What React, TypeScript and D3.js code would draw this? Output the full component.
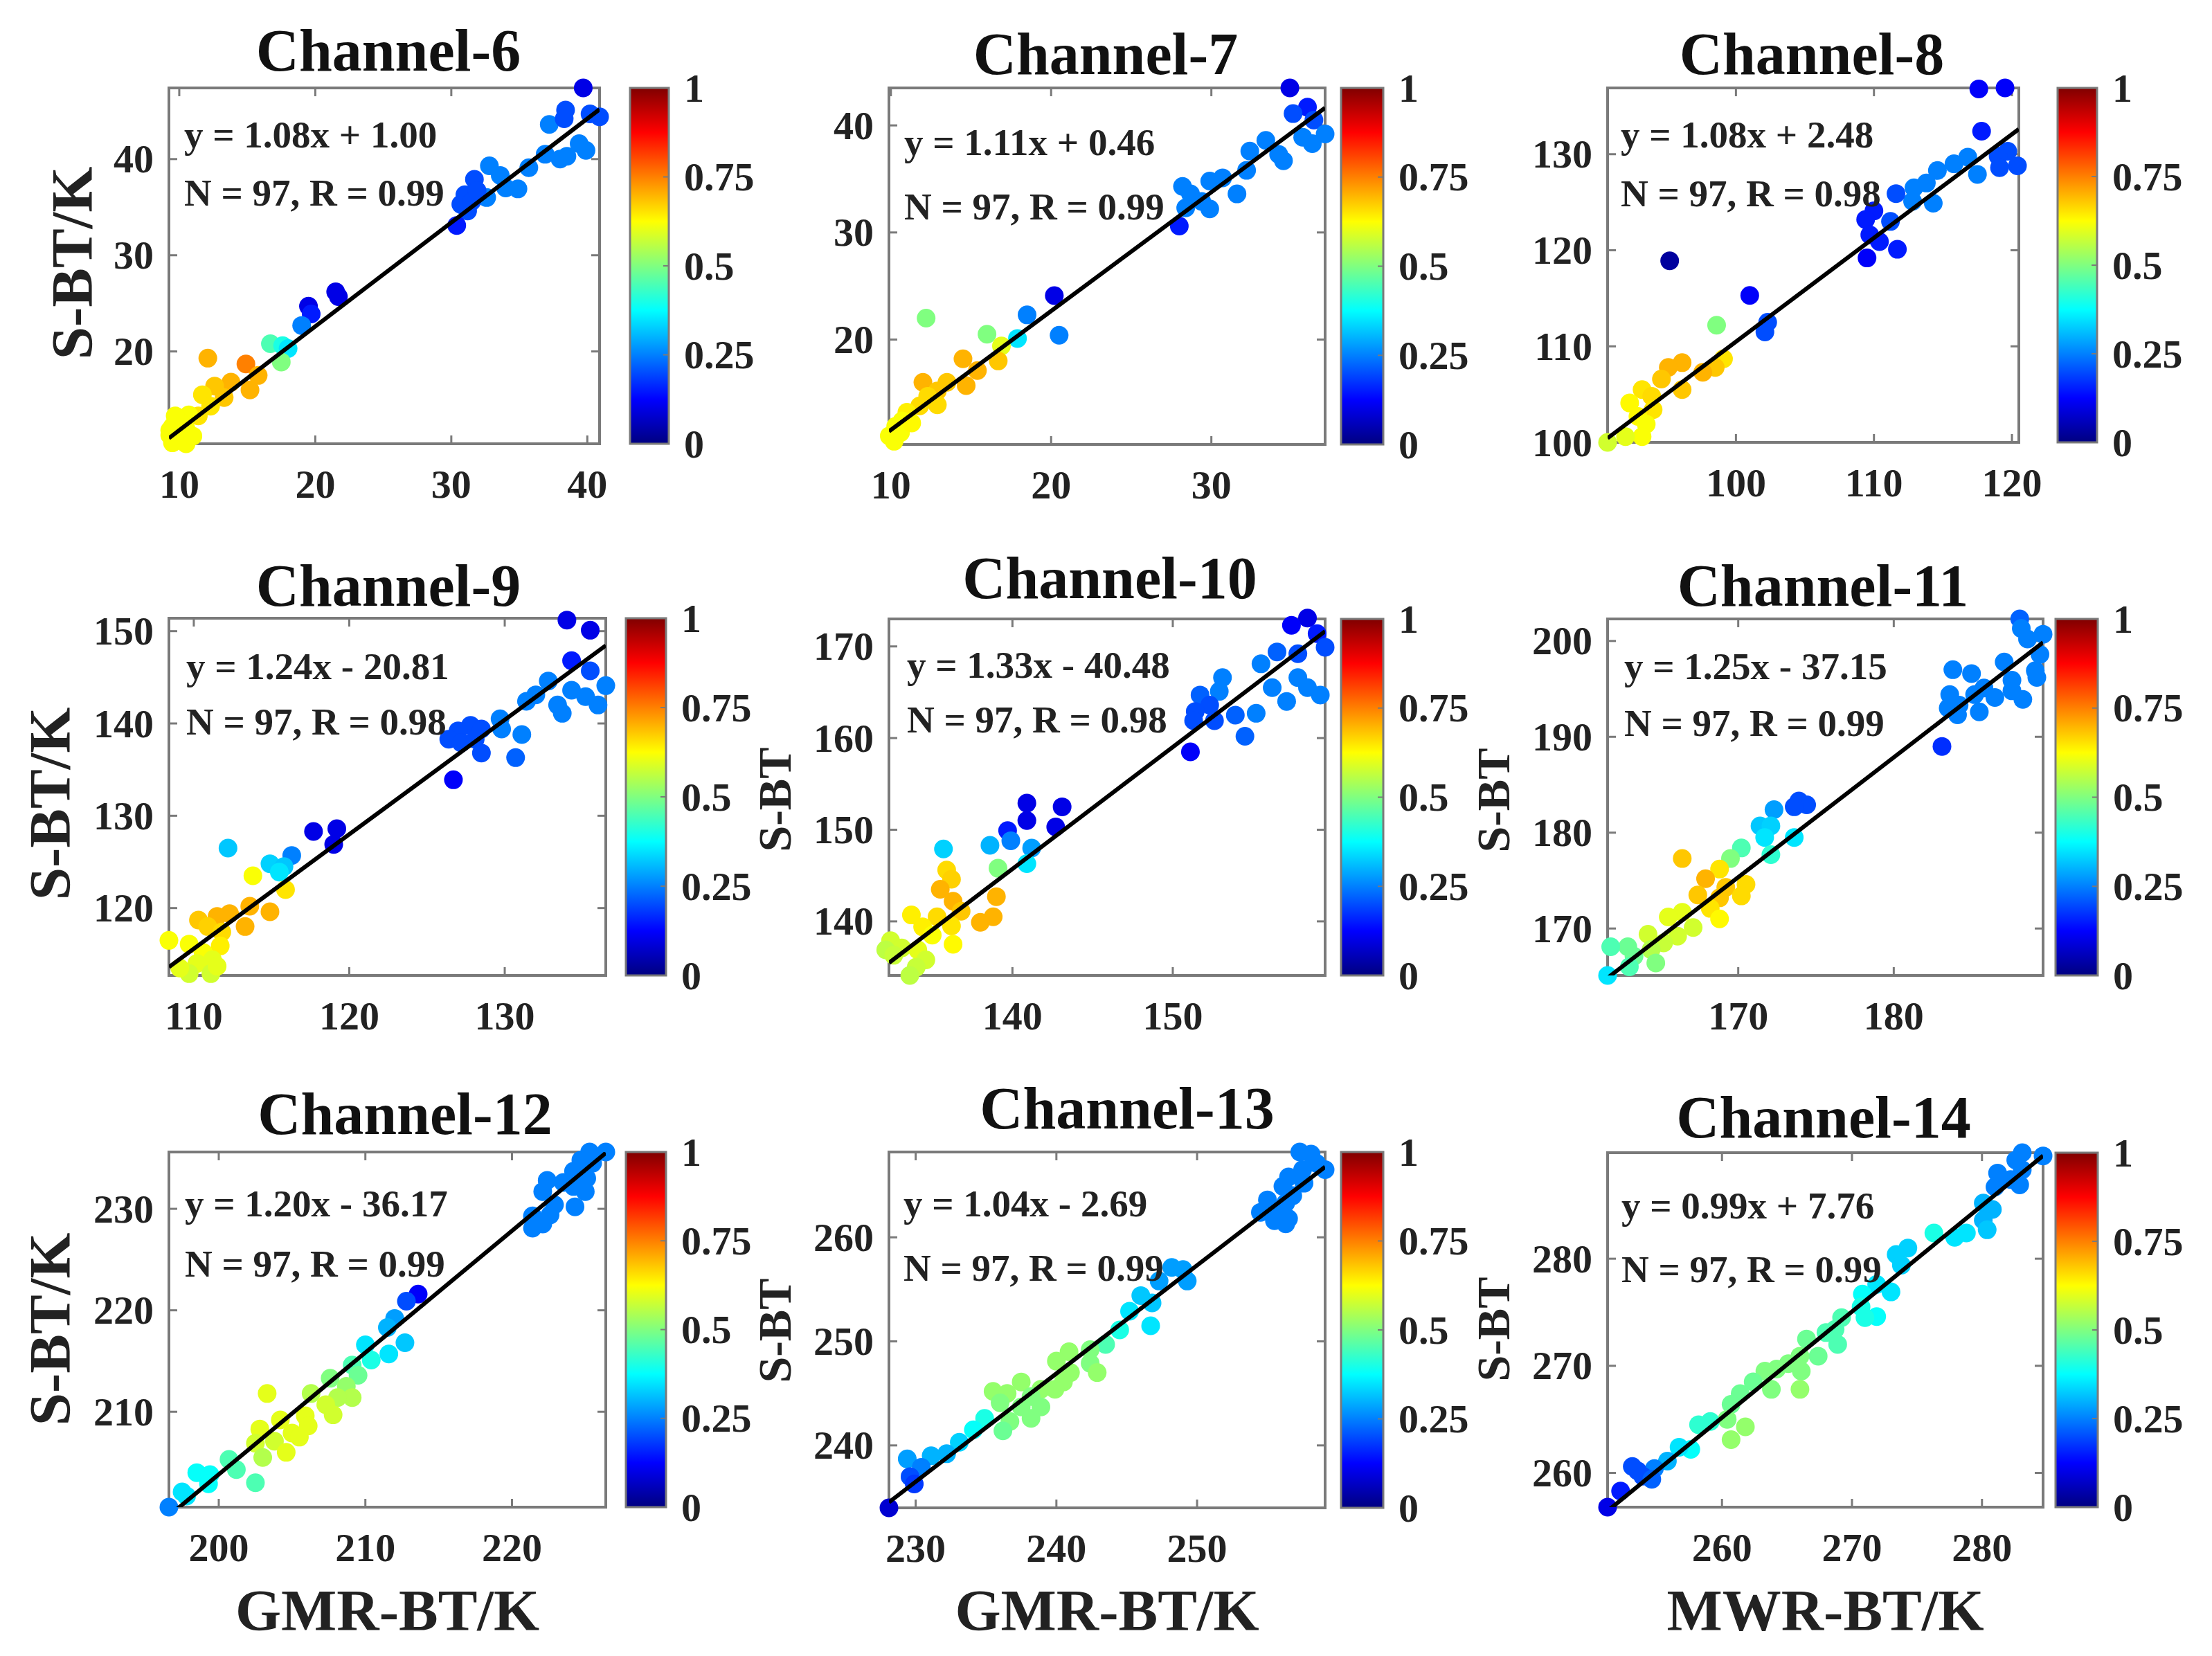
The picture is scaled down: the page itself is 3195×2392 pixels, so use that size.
import React from "react";
import * as d3 from "d3";

// channel names, fit text and axis ticks
const titles = ["Channel-6", "Channel-7", "Channel-8", "Channel-9", "Channel-10", "Channel-11", "Channel-12", "Channel-13", "Channel-14"];
const slopes = [1.08, 1.11, 1.08, 1.24, 1.33, 1.25, 1.2, 1.04, 0.99];
const intercepts = [1.0, 0.46, 2.48, -20.81, -40.48, -37.15, -36.17, -2.69, 7.76];
const equations = ["y = 1.08x + 1.00", "y = 1.11x + 0.46", "y = 1.08x + 2.48", "y = 1.24x - 20.81", "y = 1.33x - 40.48", "y = 1.25x - 37.15", "y = 1.20x - 36.17", "y = 1.04x - 2.69", "y = 0.99x + 7.76"];
const stats = ["N = 97, R = 0.99", "N = 97, R = 0.99", "N = 97, R = 0.98", "N = 97, R = 0.98", "N = 97, R = 0.98", "N = 97, R = 0.99", "N = 97, R = 0.99", "N = 97, R = 0.99", "N = 97, R = 0.99"];
const xDomains = [[9.24, 40.9], [9.88, 37.1], [90.7, 120.5], [108.4, 136.5], [132.3, 159.5], [161.6, 189.6], [196.6, 226.4], [228.1, 259.1], [251.2, 284.7]];
const yDomains = [[10.4, 47.4], [10.2, 43.5], [100, 136.9], [112.7, 151.4], [134.1, 173.0], [165.1, 202.3], [200.6, 235.6], [234.0, 268.2], [256.8, 289.9]];
const xTicks = [[10, 20, 30, 40], [10, 20, 30], [100, 110, 120], [110, 120, 130], [140, 150], [170, 180], [200, 210, 220], [230, 240, 250], [260, 270, 280]];
const yTicks = [[20, 30, 40], [20, 30, 40], [100, 110, 120, 130], [120, 130, 140, 150], [140, 150, 160, 170], [170, 180, 190, 200], [210, 220, 230], [240, 250, 260], [260, 270, 280]];
const yLabels = ["S-BT/K", "", "", "S-BT/K", "S-BT", "S-BT", "S-BT/K", "S-BT", "S-BT"];
const xLabels = ["", "", "", "", "", "", "GMR-BT/K", "GMR-BT/K", "MWR-BT/K"];
const cbValues = [0, 0.25, 0.5, 0.75, 1];
const cbLabels = ["0", "0.25", "0.5", "0.75", "1"];

// [GMR/MWR BT, S-BT, colour value]
const ch6 = [
  [39.7, 47.4, 0.1], [38.4, 45.1, 0.2], [40.2, 44.7, 0.2], [40.9, 44.4, 0.2], [37.2, 43.6, 0.25], [38.3, 44.2, 0.2],
  [39.4, 41.6, 0.25], [39.9, 40.9, 0.25], [36.9, 40.5, 0.25], [38.0, 40.0, 0.25], [38.5, 40.3, 0.25], [35.7, 39.1, 0.25],
  [32.8, 39.3, 0.25], [33.6, 38.3, 0.25], [31.7, 37.9, 0.2], [34.9, 36.9, 0.25], [34.0, 37.0, 0.25], [31.0, 36.3, 0.2],
  [32.6, 36.0, 0.25], [30.7, 35.3, 0.2], [31.5, 35.6, 0.2], [31.2, 34.6, 0.2], [30.4, 33.1, 0.15], [31.9, 36.7, 0.2],
  [21.5, 26.2, 0.1], [21.7, 25.7, 0.1], [19.5, 24.7, 0.1], [19.7, 23.9, 0.15], [19.0, 22.7, 0.25],
  [16.7, 20.8, 0.45], [17.6, 20.6, 0.4], [18.0, 20.3, 0.35], [17.5, 18.9, 0.5],
  [12.1, 19.3, 0.7], [14.9, 18.7, 0.75], [15.8, 17.5, 0.7], [13.8, 16.8, 0.7], [15.2, 16.0, 0.7], [12.6, 16.4, 0.68],
  [13.3, 15.2, 0.68], [11.7, 15.5, 0.65], [12.3, 14.3, 0.65], [11.4, 13.3, 0.65], [10.7, 13.4, 0.62],
  [10.0, 12.7, 0.62], [9.5, 12.2, 0.62], [10.5, 11.9, 0.62], [9.3, 11.3, 0.62], [10.2, 11.0, 0.62], [9.5, 10.5, 0.62],
  [10.5, 10.4, 0.62], [11.0, 11.2, 0.62], [9.7, 13.3, 0.62], [9.3, 11.8, 0.62],
];
const ch7 = [
  [34.9, 43.5, 0.1], [36.0, 41.7, 0.15], [35.1, 41.1, 0.2], [36.4, 40.5, 0.2], [37.1, 39.2, 0.25], [35.7, 38.9, 0.25],
  [36.3, 38.3, 0.25], [33.4, 38.6, 0.25], [34.2, 37.3, 0.25], [34.5, 36.7, 0.25], [32.4, 37.6, 0.25], [32.2, 35.8, 0.25],
  [30.7, 35.1, 0.25], [29.9, 34.8, 0.25], [28.2, 34.3, 0.25], [28.7, 33.6, 0.25], [31.6, 33.6, 0.25], [29.4, 32.9, 0.25],
  [29.9, 32.2, 0.25], [28.4, 32.3, 0.25], [28.0, 30.6, 0.15], [20.2, 24.1, 0.1], [18.5, 22.3, 0.25], [20.5, 20.4, 0.25],
  [12.2, 22.0, 0.5], [16.0, 20.5, 0.5], [17.9, 20.1, 0.35], [16.9, 19.4, 0.6], [14.5, 18.2, 0.7], [16.7, 18.0, 0.68],
  [15.4, 17.1, 0.7], [14.7, 15.7, 0.7], [13.5, 16.0, 0.68], [12.0, 16.0, 0.7], [12.9, 15.2, 0.68], [12.3, 14.7, 0.66],
  [12.9, 13.9, 0.66], [11.8, 13.8, 0.66], [11.0, 13.2, 0.64], [10.7, 12.4, 0.62], [10.3, 11.9, 0.62], [9.9, 11.0, 0.62],
  [10.2, 10.5, 0.62], [10.6, 11.3, 0.62], [11.3, 12.2, 0.63],
];
const ch8 = [
  [117.6, 136.8, 0.12], [119.5, 136.9, 0.12], [117.8, 132.4, 0.15], [119.7, 130.3, 0.2], [119.0, 129.8, 0.2], [120.4, 128.8, 0.2],
  [119.1, 128.6, 0.2], [116.8, 129.7, 0.25], [117.5, 127.9, 0.25], [115.8, 129.0, 0.25], [114.6, 128.3, 0.25], [113.8, 127.0, 0.25],
  [114.3, 124.9, 0.25], [112.9, 126.5, 0.25], [112.8, 125.1, 0.25], [111.6, 125.9, 0.2], [110.0, 124.1, 0.15], [109.4, 123.2, 0.15],
  [111.2, 123.0, 0.2], [109.7, 121.6, 0.15], [110.4, 120.9, 0.15], [111.7, 120.1, 0.15], [109.5, 119.2, 0.12],
  [95.2, 118.9, 0.03], [101.0, 115.3, 0.12], [102.3, 112.5, 0.2], [102.1, 111.5, 0.2], [98.6, 112.2, 0.5],
  [99.1, 108.7, 0.65], [98.5, 107.8, 0.68], [97.6, 107.3, 0.7], [96.1, 108.3, 0.7], [95.1, 107.8, 0.7], [96.1, 105.5, 0.68],
  [94.6, 106.6, 0.68], [93.2, 105.5, 0.65], [93.9, 104.8, 0.66], [92.3, 104.1, 0.63], [94.0, 103.4, 0.65], [92.9, 102.7, 0.63],
  [93.5, 101.9, 0.62], [93.2, 100.6, 0.62], [92.0, 100.6, 0.6], [90.7, 100.0, 0.58],
];
const ch9 = [
  [134.0, 151.2, 0.1], [135.5, 150.1, 0.1], [134.3, 146.8, 0.15], [135.5, 145.7, 0.2], [136.5, 144.1, 0.25], [132.8, 144.6, 0.25],
  [132.0, 143.1, 0.25], [134.3, 143.6, 0.25], [135.2, 142.9, 0.25], [136.0, 142.0, 0.25], [131.4, 142.4, 0.25], [133.4, 142.0, 0.25],
  [133.7, 141.1, 0.25], [129.7, 140.5, 0.25], [129.8, 139.4, 0.25], [127.8, 139.8, 0.2], [128.5, 139.4, 0.2], [127.0, 139.2, 0.2],
  [126.4, 138.3, 0.2], [127.2, 137.9, 0.2], [128.1, 138.3, 0.2], [131.1, 138.8, 0.25], [128.5, 136.8, 0.2], [130.7, 136.3, 0.22],
  [126.7, 133.9, 0.12], [117.7, 128.3, 0.1], [119.2, 128.6, 0.1], [119.0, 126.9, 0.1], [112.2, 126.5, 0.32], [116.3, 125.7, 0.25],
  [114.9, 124.8, 0.33], [115.8, 124.5, 0.32], [115.5, 123.9, 0.35], [113.8, 123.5, 0.62], [115.9, 122.0, 0.65], [114.9, 119.6, 0.7],
  [113.6, 120.2, 0.7], [113.3, 118.0, 0.7], [112.3, 119.4, 0.7], [111.5, 119.1, 0.7], [110.3, 118.7, 0.68], [110.9, 118.0, 0.67],
  [111.8, 117.4, 0.66], [108.4, 116.5, 0.62], [109.7, 116.1, 0.62], [111.7, 115.9, 0.64], [110.6, 115.2, 0.62], [111.2, 114.4, 0.6],
  [110.2, 114.0, 0.6], [109.7, 112.9, 0.58], [111.1, 112.9, 0.58], [111.5, 113.7, 0.6], [109.1, 113.5, 0.6],
];
const ch10 = [
  [158.4, 173.1, 0.1], [157.4, 172.3, 0.12], [159.0, 171.4, 0.15], [159.5, 169.9, 0.2], [157.8, 169.2, 0.2], [156.5, 169.4, 0.22],
  [155.5, 168.1, 0.25], [157.8, 166.6, 0.25], [158.4, 165.5, 0.25], [159.2, 164.7, 0.25], [156.2, 165.5, 0.25], [157.1, 164.0, 0.25],
  [153.1, 166.6, 0.25], [152.9, 165.1, 0.25], [151.7, 164.7, 0.22], [152.3, 163.6, 0.2], [151.4, 162.9, 0.2], [151.3, 161.9, 0.2],
  [152.6, 161.9, 0.2], [153.9, 162.5, 0.22], [155.2, 162.7, 0.25], [154.5, 160.2, 0.22], [151.1, 158.5, 0.12],
  [140.9, 152.9, 0.1], [143.1, 152.5, 0.1], [140.9, 151.0, 0.1], [142.7, 150.3, 0.1], [139.7, 149.9, 0.15], [139.9, 148.8, 0.25],
  [138.6, 148.3, 0.3], [135.7, 147.9, 0.33], [141.2, 148.0, 0.28], [140.9, 146.3, 0.35], [139.1, 145.8, 0.5], [135.9, 145.6, 0.66],
  [136.2, 144.6, 0.67], [135.5, 143.5, 0.7], [139.0, 142.7, 0.7], [136.3, 142.2, 0.7], [138.8, 140.5, 0.7], [138.0, 139.9, 0.7],
  [136.8, 141.1, 0.68], [133.7, 140.7, 0.64], [135.3, 140.5, 0.66], [136.2, 139.5, 0.65], [134.4, 139.4, 0.64], [136.3, 137.5, 0.63],
  [135.0, 138.5, 0.62], [132.4, 137.9, 0.58], [133.1, 137.1, 0.58], [132.1, 136.9, 0.56], [134.1, 136.9, 0.6], [134.6, 135.8, 0.58],
  [134.0, 135.0, 0.57], [133.6, 134.1, 0.56], [132.6, 136.3, 0.57],
];
const ch11 = [
  [188.1, 202.3, 0.22], [188.2, 201.3, 0.25], [189.6, 200.7, 0.25], [188.6, 200.2, 0.25], [189.4, 198.6, 0.25], [187.1, 197.8, 0.25],
  [183.8, 197.0, 0.25], [185.0, 196.6, 0.25], [189.1, 196.9, 0.25], [189.2, 196.2, 0.25], [187.6, 195.9, 0.25], [185.8, 195.1, 0.25],
  [183.6, 194.4, 0.25], [185.2, 194.4, 0.25], [186.5, 194.1, 0.25], [187.6, 194.8, 0.25], [188.3, 193.9, 0.25], [184.2, 193.3, 0.25],
  [185.5, 192.6, 0.25], [184.1, 192.3, 0.25], [183.5, 193.0, 0.25], [183.1, 189.0, 0.17], [173.9, 183.3, 0.2], [174.4, 182.9, 0.2],
  [173.6, 182.7, 0.2], [172.3, 182.4, 0.28], [171.4, 180.7, 0.32], [172.1, 180.7, 0.33], [171.7, 179.5, 0.35], [173.6, 179.5, 0.35],
  [172.1, 177.7, 0.42], [170.2, 178.4, 0.45], [169.5, 177.3, 0.5], [166.4, 177.3, 0.68], [168.8, 176.2, 0.65], [167.9, 175.2, 0.7],
  [169.2, 174.3, 0.68], [170.5, 174.6, 0.66], [167.4, 173.5, 0.68], [168.8, 173.2, 0.68], [170.2, 173.4, 0.66], [168.2, 172.1, 0.65],
  [168.8, 171.0, 0.63], [166.4, 171.7, 0.6], [165.5, 171.2, 0.6], [167.1, 170.1, 0.58], [166.1, 169.2, 0.58], [164.2, 169.4, 0.58],
  [165.2, 168.5, 0.57], [164.4, 167.8, 0.55], [164.7, 166.4, 0.5], [162.9, 168.1, 0.48], [161.8, 168.1, 0.45], [163.3, 167.1, 0.48],
  [163.0, 166.0, 0.45], [161.6, 165.1, 0.35],
];
const ch12 = [
  [225.3, 235.6, 0.25], [226.4, 235.6, 0.25], [224.7, 234.8, 0.25], [225.5, 234.5, 0.25], [224.2, 233.7, 0.25], [225.1, 233.0, 0.25],
  [223.5, 232.6, 0.25], [222.4, 232.8, 0.25], [222.1, 231.7, 0.25], [225.0, 231.7, 0.25], [224.2, 232.2, 0.25], [222.9, 230.4, 0.25],
  [224.3, 230.2, 0.25], [221.4, 229.3, 0.25], [222.1, 228.5, 0.25], [221.4, 228.1, 0.25], [222.6, 229.4, 0.25],
  [213.6, 221.6, 0.12], [212.8, 220.9, 0.2], [212.0, 219.2, 0.28], [211.5, 218.3, 0.3], [212.7, 216.8, 0.32], [210.0, 216.6, 0.35],
  [211.6, 215.7, 0.35], [210.4, 215.1, 0.4], [209.1, 214.6, 0.45], [209.5, 213.6, 0.48], [207.6, 213.3, 0.5], [208.7, 212.5, 0.52],
  [209.1, 211.4, 0.55], [208.1, 211.4, 0.55], [206.3, 211.8, 0.55], [203.3, 211.8, 0.6], [207.3, 210.7, 0.58], [207.8, 209.7, 0.58],
  [205.9, 209.6, 0.6], [204.2, 209.2, 0.6], [206.1, 208.6, 0.6], [202.8, 208.3, 0.6], [205.0, 207.9, 0.6], [205.5, 207.5, 0.6],
  [203.8, 207.1, 0.58], [202.5, 206.9, 0.58], [204.6, 206.0, 0.6], [203.0, 205.5, 0.55], [200.7, 205.3, 0.45], [201.2, 204.3, 0.45],
  [202.5, 203.0, 0.45], [198.5, 204.0, 0.38], [199.4, 203.8, 0.38], [199.3, 202.9, 0.38], [197.5, 202.1, 0.35], [197.8, 201.7, 0.35],
  [196.6, 200.6, 0.25],
];
const ch13 = [
  [257.3, 268.2, 0.25], [258.1, 268.0, 0.25], [258.5, 267.1, 0.25], [259.1, 266.5, 0.25], [257.5, 266.5, 0.25], [256.5, 265.8, 0.25],
  [257.6, 265.2, 0.25], [256.1, 264.9, 0.25], [256.8, 264.0, 0.25], [255.0, 263.6, 0.25], [256.3, 263.3, 0.25], [254.5, 262.4, 0.25],
  [255.5, 262.4, 0.25], [256.5, 261.8, 0.25], [255.5, 261.6, 0.25], [256.3, 261.3, 0.25], [248.2, 257.1, 0.28], [249.0, 256.9, 0.28],
  [249.3, 255.8, 0.28], [247.3, 255.8, 0.28], [246.0, 254.4, 0.32], [246.8, 253.7, 0.32], [245.2, 252.9, 0.35], [246.7, 251.5, 0.35],
  [244.5, 251.1, 0.4], [243.5, 249.7, 0.45], [242.4, 249.2, 0.5], [240.9, 249.0, 0.52], [240.0, 248.1, 0.52], [242.4, 247.9, 0.5],
  [242.9, 247.0, 0.52], [241.0, 247.0, 0.52], [240.5, 246.1, 0.52], [237.5, 246.1, 0.52], [235.5, 245.2, 0.52], [236.5, 245.0, 0.52],
  [238.9, 245.4, 0.52], [239.9, 245.4, 0.52], [238.2, 244.7, 0.5], [236.0, 244.1, 0.5], [237.5, 243.7, 0.5], [238.9, 243.7, 0.5],
  [238.2, 242.6, 0.5], [236.7, 242.3, 0.5], [236.2, 241.4, 0.48], [234.9, 242.6, 0.4], [234.1, 241.5, 0.38], [233.1, 240.3, 0.33],
  [232.2, 239.2, 0.3], [231.1, 239.0, 0.3], [229.4, 238.7, 0.28], [230.4, 237.9, 0.25], [229.6, 237.0, 0.2], [229.9, 236.3, 0.18],
  [228.1, 234.0, 0.08],
];
const ch14 = [
  [283.1, 289.9, 0.25], [284.7, 289.6, 0.25], [282.6, 289.2, 0.25], [283.1, 288.3, 0.25], [281.2, 288.0, 0.25], [282.2, 287.4, 0.25],
  [282.9, 286.9, 0.25], [281.0, 286.7, 0.25], [280.1, 285.2, 0.3], [280.8, 284.6, 0.3], [280.1, 283.6, 0.3], [280.4, 282.7, 0.32],
  [278.8, 282.4, 0.35], [277.9, 282.0, 0.35], [276.3, 282.4, 0.4], [274.3, 281.0, 0.33], [273.4, 280.4, 0.33], [273.8, 279.4, 0.33],
  [273.0, 276.9, 0.35], [271.9, 277.6, 0.35], [270.8, 276.7, 0.38], [270.7, 275.5, 0.4], [271.9, 274.6, 0.38], [271.0, 274.5, 0.4],
  [269.2, 274.5, 0.45], [268.7, 273.4, 0.45], [268.0, 273.1, 0.45], [266.5, 272.5, 0.48], [268.9, 272.0, 0.45], [267.4, 270.9, 0.48],
  [266.0, 270.9, 0.5], [265.1, 270.2, 0.5], [266.1, 269.5, 0.5], [264.2, 269.7, 0.5], [263.3, 269.5, 0.5], [262.4, 268.5, 0.48],
  [263.8, 267.8, 0.5], [266.0, 267.8, 0.52], [261.4, 267.4, 0.48], [260.7, 266.4, 0.48], [260.4, 265.0, 0.5], [261.8, 264.3, 0.52],
  [260.7, 263.1, 0.52], [259.1, 264.8, 0.42], [258.2, 264.5, 0.42], [257.6, 262.2, 0.38], [256.7, 262.4, 0.35], [255.8, 261.1, 0.3],
  [254.8, 260.4, 0.25], [253.5, 260.2, 0.2], [253.1, 260.6, 0.2], [253.9, 259.7, 0.2], [254.6, 259.4, 0.22], [252.2, 258.3, 0.15],
  [251.2, 256.8, 0.1],
];
const points = [ch6, ch7, ch8, ch9, ch10, ch11, ch12, ch13, ch14];

// layout in pixels: plot box, colorbar, title and labels
const boxes = [
  [244, 866, 127, 641], [1284, 1914, 127, 642], [2322, 2916, 127, 639],
  [244, 875, 893, 1409], [1284, 1914, 894, 1409], [2322, 2951, 894, 1409],
  [244, 875, 1664, 2177], [1284, 1914, 1664, 2178], [2322, 2951, 1665, 2177],
];
const cbars = [[910, 966], [1937, 1998], [2972, 3029], [904, 962], [1937, 1998], [2969, 3030], [904, 962], [1937, 1998], [2969, 3030]];
const titlePos = [[561, 102], [1597, 107], [2617, 107], [561, 875], [1603, 864], [2633, 875], [585, 1638], [1628, 1630], [2634, 1643]];
const notePos = [[266, 213, 297], [1306, 224, 317], [2341, 213, 298], [269, 981, 1061], [1310, 979, 1058], [2346, 981, 1063], [267, 1757, 1844], [1305, 1757, 1850], [2342, 1760, 1852]];
const yLabelPos = [[104, 380, 85], [0, 0, 0], [0, 0, 0], [72, 1161, 85], [1119, 1155, 68], [2157, 1156, 68], [72, 1920, 85], [1119, 1922, 68], [2157, 1920, 68]];
const xLabelY = 2326;

const FONT = "'Liberation Serif', 'Times New Roman', serif";
const GRAY = "#7a7a7a";

function jet(t: number) {
  const c = (v: number) => Math.round(255 * Math.max(0, Math.min(1, v)));
  return `rgb(${c(1.5 - Math.abs(4 * t - 3))},${c(1.5 - Math.abs(4 * t - 2))},${c(1.5 - Math.abs(4 * t - 1))})`;
}

function Panel({ i }: { i: number }) {
  const [left, right, top, bottom] = boxes[i];
  const x = d3.scaleLinear().domain(xDomains[i]).range([left, right]);
  const y = d3.scaleLinear().domain(yDomains[i]).range([bottom, top]);
  const [x0, x1] = xDomains[i];
  const fit = (v: number) => slopes[i] * v + intercepts[i];
  const [cb0, cb1] = cbars[i];
  const cbScale = d3.scaleLinear().domain([0, 1]).range([bottom, top]);
  const tl = 12;

  return (
    <g>
      <clipPath id={`clip${i}`}>
        <rect x={left} y={top} width={right - left} height={bottom - top} />
      </clipPath>
      <rect x={left} y={top} width={right - left} height={bottom - top} fill="white" stroke={GRAY} strokeWidth={4} />
      {xTicks[i].map((t) => (
        <g key={"xt" + t}>
          <line x1={x(t)} x2={x(t)} y1={bottom} y2={bottom - tl} stroke={GRAY} strokeWidth={3} />
          <line x1={x(t)} x2={x(t)} y1={top} y2={top + tl} stroke={GRAY} strokeWidth={3} />
          <text x={x(t)} y={bottom + 78} textAnchor="middle" fontSize={58} fontWeight="bold" fill="#222">{t}</text>
        </g>
      ))}
      {yTicks[i].map((t) => (
        <g key={"yt" + t}>
          <line x1={left} x2={left + tl} y1={y(t)} y2={y(t)} stroke={GRAY} strokeWidth={3} />
          <line x1={right} x2={right - tl} y1={y(t)} y2={y(t)} stroke={GRAY} strokeWidth={3} />
          <text x={left - 22} y={y(t)} textAnchor="end" dominantBaseline="central" fontSize={58} fontWeight="bold" fill="#222">{t}</text>
        </g>
      ))}
      {points[i].map((p, k) => (
        <circle key={k} cx={x(p[0])} cy={y(p[1])} r={13.5} fill={jet(p[2])} />
      ))}
      <line clipPath={`url(#clip${i})`} x1={x(x0)} y1={y(fit(x0))} x2={x(x1)} y2={y(fit(x1))} stroke="black" strokeWidth={6} />
      <text x={notePos[i][0]} y={notePos[i][1]} fontSize={55} fontWeight="bold" fill="#222">{equations[i]}</text>
      <text x={notePos[i][0]} y={notePos[i][2]} fontSize={55} fontWeight="bold" fill="#222">{stats[i]}</text>
      <text x={titlePos[i][0]} y={titlePos[i][1]} textAnchor="middle" fontSize={86} fontWeight="bold" fill="#111">{titles[i]}</text>
      {yLabels[i] && (
        <text transform={`translate(${yLabelPos[i][0]},${yLabelPos[i][1]}) rotate(-90)`} textAnchor="middle" dominantBaseline="central" fontSize={yLabelPos[i][2]} fontWeight="bold" fill="#222">{yLabels[i]}</text>
      )}
      {xLabels[i] && (
        <text x={(left + right) / 2} y={xLabelY} textAnchor="middle" dominantBaseline="central" fontSize={85} fontWeight="bold" fill="#222">{xLabels[i]}</text>
      )}
      <rect x={cb0} y={top} width={cb1 - cb0} height={bottom - top} fill="url(#jetGrad)" stroke={GRAY} strokeWidth={3} />
      {cbValues.map((v, k) => (
        <g key={"cb" + k}>
          <line x1={cb1} x2={cb1 - 8} y1={cbScale(v)} y2={cbScale(v)} stroke={GRAY} strokeWidth={2} />
          <text x={cb1 + 22} y={cbScale(v)} dominantBaseline="central" fontSize={58} fontWeight="bold" fill="#222">{cbLabels[k]}</text>
        </g>
      ))}
    </g>
  );
}

export default function App() {
  const stops = d3.range(0, 9).map((k) => k / 8);
  return (
    <svg width={3195} height={2392} style={{ position: "absolute", left: 0, top: 0, background: "white" }} fontFamily={FONT}>
      <defs>
        <linearGradient id="jetGrad" x1="0" y1="1" x2="0" y2="0">
          {stops.map((s) => (
            <stop key={s} offset={s} stopColor={jet(s)} />
          ))}
        </linearGradient>
      </defs>
      <rect width={3195} height={2392} fill="white" />
      {titles.map((_, i) => (
        <Panel key={i} i={i} />
      ))}
    </svg>
  );
}
